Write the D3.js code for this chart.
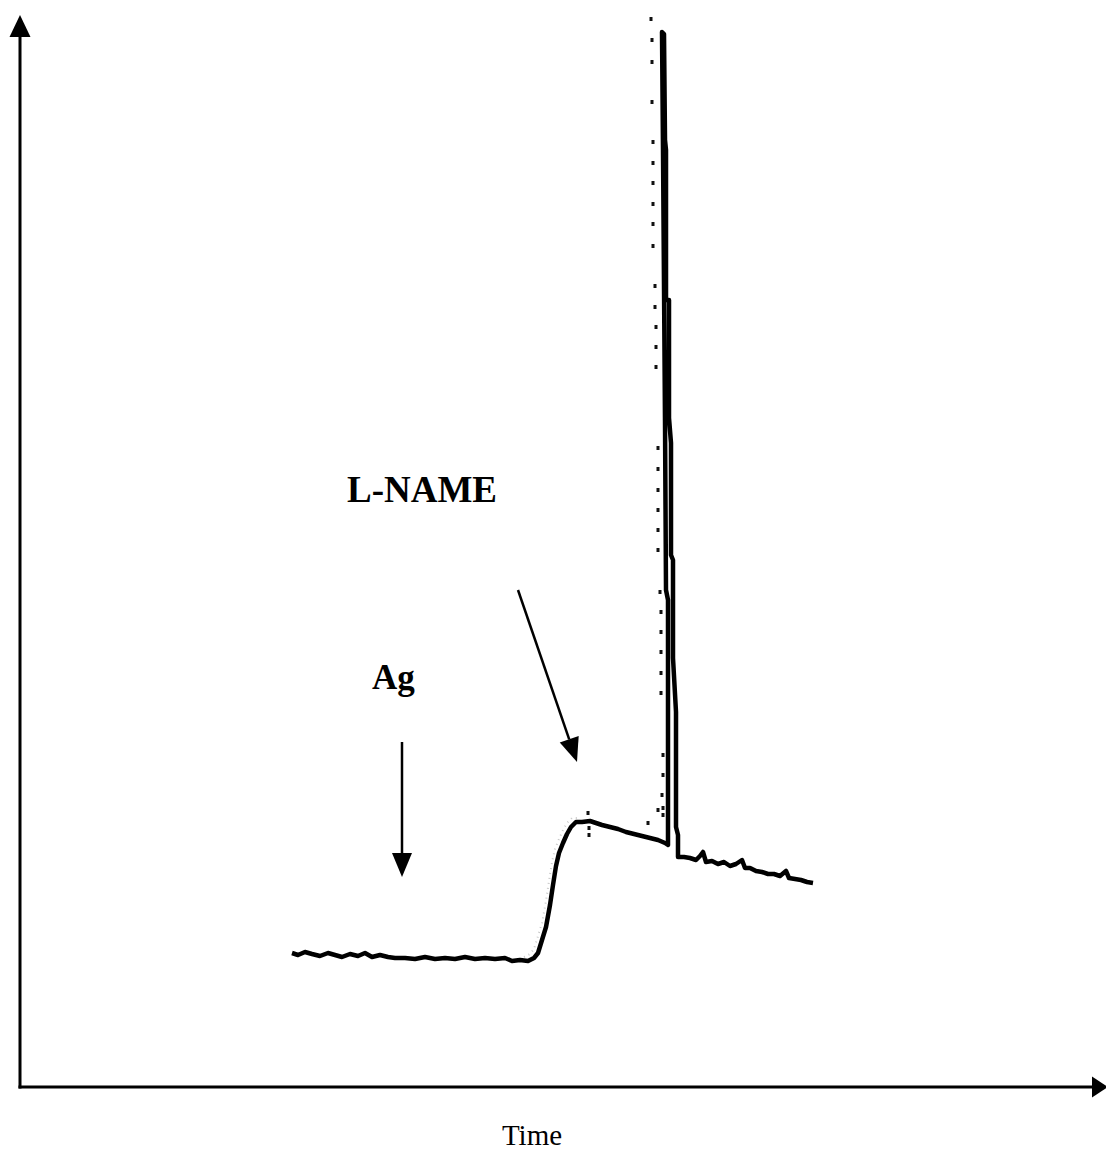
<!DOCTYPE html>
<html>
<head>
<meta charset="utf-8">
<script src="https://cdn.jsdelivr.net/npm/d3@7"></script>
<style>
  html, body { margin: 0; padding: 0; background: #fff; }
  svg { display: block; }
</style>
</head>
<body>
<script>
// Recorded trace (arbitrary units): time and signal samples
const traceTime = [
  272, 278, 285, 292, 300, 308, 315, 322, 330, 338, 345, 352, 360, 368, 375,
  385, 395, 405, 415, 425, 435, 445, 455, 465, 475, 485, 492, 500, 508, 514,
  518, 522, 526, 530, 533, 536, 539, 543, 547, 551, 556, 562, 570, 576, 582,
  590, 598, 606, 614, 622, 630, 638, 645, 648,
  648, 646, 645, 643, 642,
  644, 645, 646, 646, 649, 649, 651, 651, 653, 653, 656, 656, 658, 658,
  664, 670, 676, 680, 683, 686, 692, 698, 704, 710, 716, 722, 725, 730, 736,
  742, 748, 754, 760, 766, 769, 775, 781, 787, 793
];
const traceSignal = [
  134, 132, 135, 133, 131, 134, 132, 130, 133, 131, 134, 130, 132, 130, 129,
  129, 128, 130, 128, 129, 128, 130, 128, 129, 128, 129, 126, 127, 126, 129,
  134, 147, 160, 182, 202, 221, 234, 244, 253, 260, 265, 265, 266, 264, 262,
  260, 258, 255, 253, 251, 249, 247, 244, 242,
  487, 497, 667, 937, 1055,
  1053, 947, 937, 787, 787, 669, 644, 532, 527, 429, 375, 260, 252, 230,
  230, 229, 227, 231, 235, 225, 226, 223, 225, 221, 223, 227, 219, 219, 216,
  215, 213, 213, 211, 216, 209, 208, 207, 205, 204
];

// Sparse sampled points of the second (dotted) recording
const dotTime = [
  631, 632, 632, 632, 633, 633, 633, 633, 633, 633, 635, 635, 636, 636, 636,
  638, 638, 638, 638, 638, 638, 640, 641, 641, 641, 641, 641, 643, 643, 642,
  643, 643, 638, 628, 568, 569, 569
];
const dotSignal = [
  1068, 1047, 1025, 985, 945, 924, 904, 883, 863, 841, 801, 780, 760, 740, 720,
  639, 618, 597, 577, 557, 537, 495, 475, 455, 435, 414, 394, 332, 312, 292,
  279, 272, 277, 264, 274, 259, 252
];

// Event markers: label, label anchor, arrow start and arrow tip
const eventLabels = ["Ag", "L-NAME"];
const eventLabelTime = [352, 327];
const eventLabelSignal = [398, 585];
const eventArrowFrom = [[382, 345], [498, 497]];
const eventArrowTo = [[382, 210], [557, 325]];
const eventFontSize = [35, 37];

const axisTitle = "Time";

const W = 1106, H = 1153;
const svg = d3.select("body").append("svg")
  .attr("width", W).attr("height", H)
  .attr("viewBox", `0 0 ${W} ${H}`);

const x = d3.scaleLinear().domain([0, 1072]).range([20, 1092]);
const y = d3.scaleLinear().domain([0, 1067]).range([1087, 20]);

// Axes: plain lines ending in solid arrowheads, no ticks
const x0 = x(0), y0 = y(0);
svg.append("line")
  .attr("x1", x0).attr("y1", y0 + 1.5).attr("x2", x0).attr("y2", y(1067) + 14)
  .attr("stroke", "#000").attr("stroke-width", 3);
svg.append("path")
  .attr("d", `M${x0},${y(1067) - 5} L${x0 - 10.5},${y(1067) + 17} L${x0 + 10.5},${y(1067) + 17} Z`)
  .attr("fill", "#000");
svg.append("line")
  .attr("x1", x0 - 1.5).attr("y1", y0).attr("x2", x(1072)).attr("y2", y0)
  .attr("stroke", "#000").attr("stroke-width", 3);
svg.append("path")
  .attr("d", `M${x(1072) + 16},${y0} L${x(1072)},${y0 - 10.5} L${x(1072)},${y0 + 10.5} Z`)
  .attr("fill", "#000");

svg.append("text")
  .attr("x", x(512)).attr("y", 1145)
  .attr("text-anchor", "middle")
  .attr("font-family", "'Liberation Serif', 'Times New Roman', serif")
  .attr("font-size", 29)
  .text(axisTitle);

// Faint speckle along the rising edge
const rise = d3.range(28, 42).map(i => [traceTime[i] - 4, traceSignal[i] + 4]);
svg.append("path")
  .datum(rise)
  .attr("d", d3.line().x(d => x(d[0])).y(d => y(d[1])))
  .attr("fill", "none")
  .attr("stroke", "#c8c8c8")
  .attr("stroke-width", 2)
  .attr("stroke-dasharray", "1,4");

// Main trace
const trace = traceTime.map((t, i) => [t, traceSignal[i]]);
svg.append("path")
  .datum(trace)
  .attr("d", d3.line().x(d => x(d[0])).y(d => y(d[1])))
  .attr("fill", "none")
  .attr("stroke", "#000")
  .attr("stroke-width", 4.5)
  .attr("stroke-linejoin", "round")
  .attr("stroke-linecap", "butt");

// Dotted recording
svg.append("g").selectAll("rect")
  .data(dotTime.map((t, i) => [t, dotSignal[i]]))
  .join("rect")
  .attr("x", d => x(d[0]) - 1.5)
  .attr("y", d => y(d[1]) - 2)
  .attr("width", 3)
  .attr("height", 4)
  .attr("fill", "#111");

// Event arrows and labels
eventLabels.forEach((lab, i) => {
  const [fx, fy] = [x(eventArrowFrom[i][0]), y(eventArrowFrom[i][1])];
  const [tx, ty] = [x(eventArrowTo[i][0]), y(eventArrowTo[i][1])];
  const ang = Math.atan2(ty - fy, tx - fx);
  const headLen = 24, half = 10;
  const bx = tx - headLen * Math.cos(ang), by = ty - headLen * Math.sin(ang);
  const px = -Math.sin(ang) * half, py = Math.cos(ang) * half;
  svg.append("line")
    .attr("x1", fx).attr("y1", fy).attr("x2", bx).attr("y2", by)
    .attr("stroke", "#000").attr("stroke-width", 2.5);
  svg.append("path")
    .attr("d", `M${tx},${ty} L${bx + px},${by + py} L${bx - px},${by - py} Z`)
    .attr("fill", "#000");
  svg.append("text")
    .attr("x", x(eventLabelTime[i])).attr("y", y(eventLabelSignal[i]))
    .attr("font-family", "'Liberation Serif', 'Times New Roman', serif")
    .attr("font-weight", "bold")
    .attr("font-size", eventFontSize[i])
    .text(lab);
});
</script>
</body>
</html>
